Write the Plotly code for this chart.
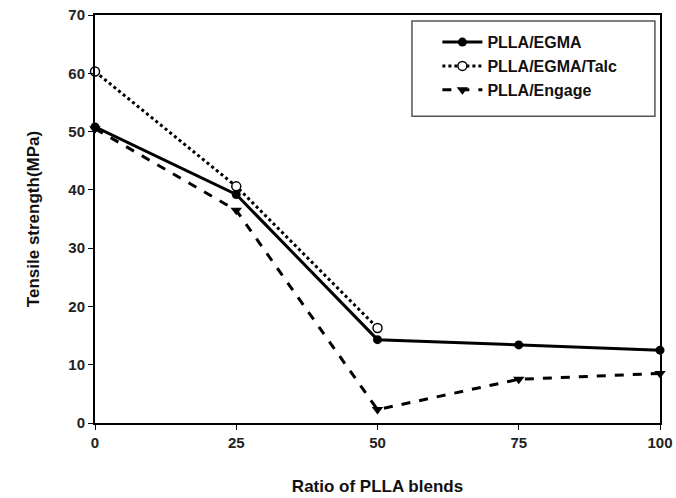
import plotly.graph_objects as go

x_ratio = [0, 25, 50, 75, 100]
egma = [50.8, 39.2, 14.3, 13.4, 12.5]
x_talc = [0, 25, 50]
egma_talc = [60.3, 40.6, 16.3]
engage = [50.5, 36.5, 2.3, 7.5, 8.5]
x_ticks = [0, 25, 50, 75, 100]
y_ticks = [0, 10, 20, 30, 40, 50, 60, 70]

FONT = "Liberation Sans, Arial, sans-serif"

fig = go.Figure()
fig.add_trace(go.Scatter(
    x=x_ratio, y=egma, name="<b>PLLA/EGMA</b>", mode="lines+markers",
    line=dict(color="black", width=3, dash="solid"),
    marker=dict(symbol="circle", size=9, color="black"),
    cliponaxis=False))
fig.add_trace(go.Scatter(
    x=x_talc, y=egma_talc, name="<b>PLLA/EGMA/Talc</b>", mode="lines+markers",
    line=dict(color="black", width=3, dash="dot"),
    marker=dict(symbol="circle", size=9, color="white", line=dict(color="black", width=1.5)),
    cliponaxis=False))
fig.add_trace(go.Scatter(
    x=x_ratio, y=engage, name="<b>PLLA/Engage</b>", mode="lines+markers",
    line=dict(color="black", width=3, dash="dash"),
    marker=dict(symbol="triangle-down", size=10, color="black"),
    cliponaxis=False))

# legend frame
fig.add_shape(type="rect", xref="paper", yref="paper",
              x0=0.561, x1=0.991, y0=0.752, y1=0.985,
              line=dict(color="#555", width=1.5), fillcolor="white", layer="below")

fig.update_layout(
    width=676, height=498,
    margin=dict(l=95, r=16, t=15, b=75),
    paper_bgcolor="white", plot_bgcolor="white",
    font=dict(family=FONT, color="#222", size=15),
    showlegend=True,
    legend=dict(
        x=0.606, y=0.975, xanchor="left", yanchor="top",
        borderwidth=0, bgcolor="rgba(0,0,0,0)",
        font=dict(family=FONT, size=16, color="#111"),
        tracegroupgap=0, itemwidth=40,
    ),
    xaxis=dict(
        range=[0, 100], tickvals=x_ticks, ticktext=[f"<b>{v}</b>" for v in x_ticks],
        showgrid=False, zeroline=False, showline=True, linecolor="black", linewidth=2,
        mirror=True, ticks="outside", ticklen=5, tickcolor="black", tickwidth=1,
        tickfont=dict(size=15, color="#222"), automargin=False,
        title=dict(text="<b>Ratio of PLLA blends</b>", font=dict(size=17, color="#111"), standoff=30),
    ),
    yaxis=dict(
        range=[0, 70], tickvals=y_ticks, ticktext=[f"<b>{v}</b>" for v in y_ticks],
        showgrid=False, zeroline=False, showline=True, linecolor="black", linewidth=2,
        mirror=True, ticks="outside", ticklen=5, tickcolor="black", tickwidth=1,
        tickfont=dict(size=15, color="#222"), automargin=False,
        title=dict(text="<b>Tensile strength(MPa)</b>", font=dict(size=17, color="#111"), standoff=24),
    ),
)

fig.write_html("out.html")
